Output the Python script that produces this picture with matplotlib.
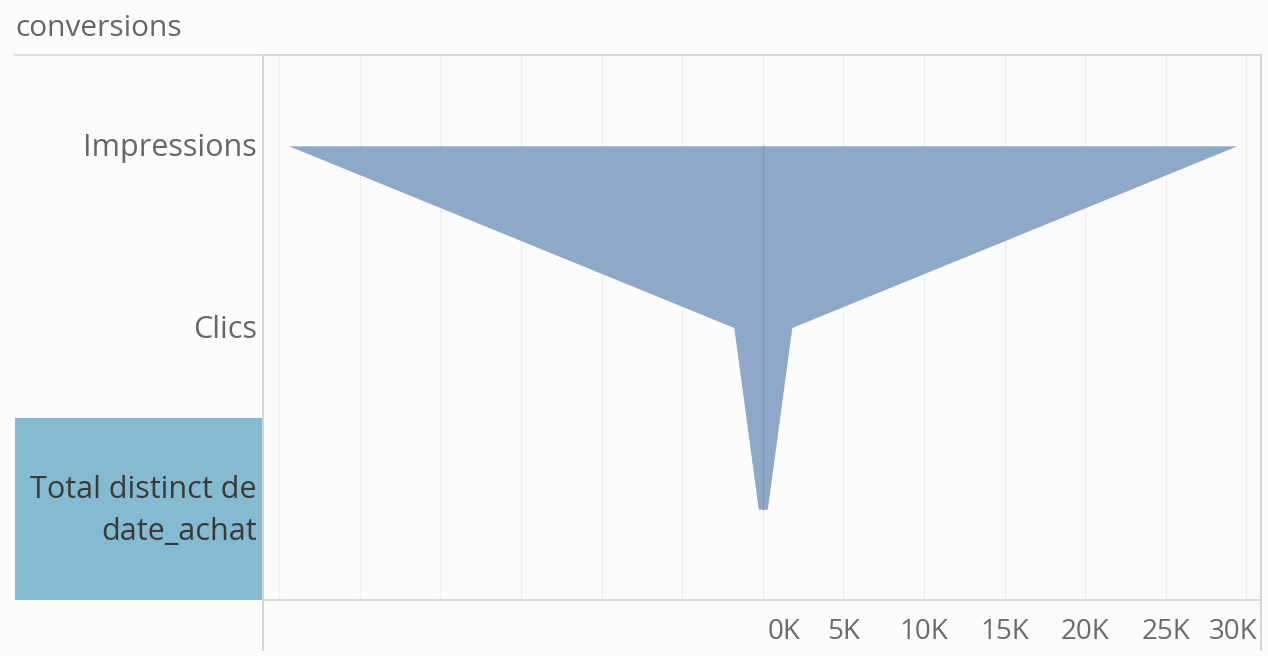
import matplotlib
matplotlib.use("Agg")
import matplotlib.pyplot as plt
import matplotlib.transforms as mtransforms
from matplotlib.patches import Rectangle
from matplotlib.lines import Line2D

# Funnel stages and their totals
stages = ["Impressions", "Clics", "Total distinct de\ndate_achat"]
totals = [29400, 1800, 280]

# Axis ticks (thousands) shown on the positive side only
tick_values = [0, 5000, 10000, 15000, 20000, 25000, 30000]
tick_labels = ["0K", "5K", "10K", "15K", "20K", "25K", "30K"]
grid_values = [-30000, -25000, -20000, -15000, -10000, -5000,
               0, 5000, 10000, 15000, 20000, 25000, 30000]

plt.rcParams["font.family"] = ["Open Sans", "DejaVu Sans"]

W, H, DPI = 1268, 656, 100
fig = plt.figure(figsize=(W / DPI, H / DPI), dpi=DPI, facecolor="#fcfcfc")
ax = fig.add_axes([263 / W, 1 - 600 / H, (1261 - 263) / W, (600 - 55) / H])
ax.set_facecolor("#fcfcfc")

FILL = "#8ea8c7"
GRID = "#eeeeee"
LINE = "#d6d6d6"

ypos = list(range(len(stages)))
ax.set_ylim(len(stages) - 0.5, -0.5)
ax.set_xlim(-31000, 30900)

# light vertical grid
for g in grid_values:
    ax.axvline(g, color=GRID, lw=1, zorder=0)

# mirrored funnel area
ax.fill_betweenx(ypos, [-t for t in totals], totals, color=FILL, lw=0, zorder=2)
ax.plot([0, 0], [ypos[0], ypos[-1]], color="#8199b7", lw=1, zorder=3)

# tick labels
ax.set_xticks(tick_values)
ax.set_xticklabels(tick_labels)
ax.tick_params(axis="x", length=0, labelsize=20, labelcolor="#6b6b6b", pad=13)
ax.set_yticks([])
labels = ax.get_xticklabels()
labels[0].set_ha("left")
labels[0].set_transform(labels[0].get_transform() +
                        mtransforms.ScaledTranslation(5 / DPI, 0, fig.dpi_scale_trans))
labels[-1].set_ha("right")
labels[-1].set_transform(labels[-1].get_transform() +
                         mtransforms.ScaledTranslation(11 / DPI, 0, fig.dpi_scale_trans))

for s in ax.spines.values():
    s.set_color(LINE)
    s.set_linewidth(1.2)
ax.spines["left"].set_visible(False)
ax.spines["right"].set_visible(False)

# axis frame lines running down through the tick area
ax_left_frac = -(263 - 15) / (1261 - 263)
below = -(650 - 600) / (600 - 55)
for xf in (0, 1):
    ax.add_line(Line2D([xf, xf], [below, 1], transform=ax.transAxes,
                       color=LINE, lw=1.4, clip_on=False, zorder=5))
ax.add_line(Line2D([ax_left_frac, 1], [1, 1], transform=ax.transAxes,
                   color=LINE, lw=1.2, clip_on=False, zorder=5))

# highlighted row header
blend = mtransforms.blended_transform_factory(ax.transAxes, ax.transData)
ax.add_patch(Rectangle((ax_left_frac, 1.5), -ax_left_frac, 1.0, transform=blend,
                       facecolor="#84bbd0", edgecolor="none", clip_on=False, zorder=1))

# row labels
lab_off = mtransforms.ScaledTranslation(-6 / DPI, -2 / DPI, fig.dpi_scale_trans)
colors = ["#666666", "#666666", "#3a3a3a"]
for y, name, c in zip(ypos, stages, colors):
    ax.text(0, y, name, transform=blend + lab_off, ha="right", va="center",
            fontsize=22, color=c, linespacing=1.5, zorder=6, clip_on=False)

fig.text(15 / W, 1 - 29 / H, "conversions", ha="left", va="center",
         fontsize=21.5, color="#666666")

fig.savefig("out.png", dpi=DPI, facecolor=fig.get_facecolor())
